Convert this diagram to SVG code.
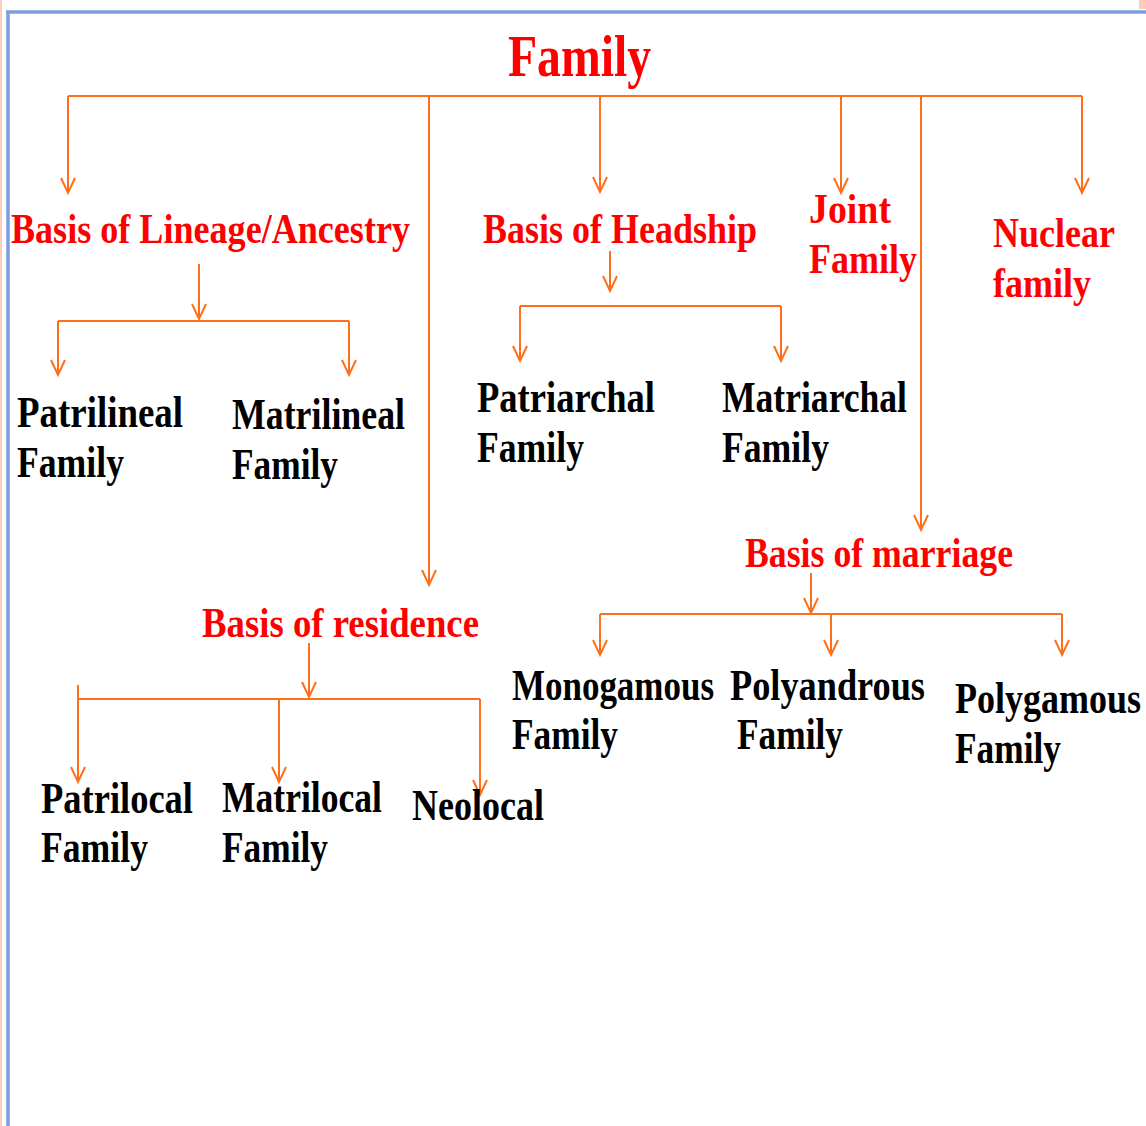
<svg xmlns="http://www.w3.org/2000/svg" width="1146" height="1126" viewBox="0 0 1146 1126">
<style>
.t{font-family:"Liberation Serif","Times New Roman",serif;}
.r{fill:#ff0000;font-weight:bold;font-size:42px;}
.k{fill:#000000;font-weight:bold;font-size:44px;}
.ti{fill:#ff0000;font-weight:bold;font-size:60px;}
.c{fill:none;stroke:#ff6f1a;stroke-width:2;}
.a{marker-end:url(#arr);}
</style>
<defs>
<marker id="arr" markerUnits="userSpaceOnUse" orient="auto" markerWidth="20" markerHeight="20" refX="0" refY="0" overflow="visible">
<path d="M-15,-7 L0,0 L-15,7" fill="none" stroke="#ff6f1a" stroke-width="2"/>
</marker>
</defs>
<rect width="1146" height="1126" fill="#ffffff"/>
<g id="frame">
<line x1="1" y1="0" x2="1" y2="1126" stroke="#ffcdbd" stroke-width="2"/>
<rect x="1139" y="0" width="7" height="9" fill="#ffcab6"/>
<line x1="8" y1="12" x2="8" y2="1126" stroke="#7c9edc" stroke-width="3.5"/>
<line x1="6" y1="12" x2="1146" y2="12" stroke="#7c9edc" stroke-width="3.5"/>
</g>
<g id="connectors">
<path class="c" d="M68,96 H1082"/>
<path class="c a" d="M68,96 V193"/>
<path class="c a" d="M429,96 V585"/>
<path class="c a" d="M600,96 V192"/>
<path class="c a" d="M841,96 V193"/>
<path class="c a" d="M921,96 V530"/>
<path class="c a" d="M1082,96 V193"/>
<path class="c a" d="M199,264 V319"/>
<path class="c" d="M58,321 H349"/>
<path class="c a" d="M58,321 V375"/>
<path class="c a" d="M349,321 V375"/>
<path class="c a" d="M610,251 V291"/>
<path class="c" d="M520,306 H781"/>
<path class="c a" d="M520,306 V361"/>
<path class="c a" d="M781,306 V361"/>
<path class="c a" d="M309,643 V697"/>
<path class="c" d="M78,699 H480"/>
<path class="c a" d="M78,685 V782"/>
<path class="c a" d="M279,699 V782"/>
<path class="c a" d="M480,699 V795"/>
<path class="c a" d="M811,573 V613"/>
<path class="c" d="M600,614 H1062"/>
<path class="c a" d="M600,614 V655"/>
<path class="c a" d="M831,614 V655"/>
<path class="c a" d="M1062,614 V655"/>
</g>
<g id="family"><text class="t ti" x="508" y="76" textLength="143" lengthAdjust="spacingAndGlyphs">Family</text></g>
<g id="lineage"><text class="t r" x="11" y="243" textLength="399" lengthAdjust="spacingAndGlyphs">Basis of Lineage/Ancestry</text></g>
<g id="headship"><text class="t r" x="483" y="243" textLength="274" lengthAdjust="spacingAndGlyphs">Basis of Headship</text></g>
<g id="joint">
<text class="t r" x="809" y="223" textLength="82" lengthAdjust="spacingAndGlyphs">Joint</text>
<text class="t r" x="809" y="273" textLength="108" lengthAdjust="spacingAndGlyphs">Family</text>
</g>
<g id="nuclear">
<text class="t r" x="993" y="247" textLength="122" lengthAdjust="spacingAndGlyphs">Nuclear</text>
<text class="t r" x="993" y="297" textLength="98" lengthAdjust="spacingAndGlyphs">family</text>
</g>
<g id="residence"><text class="t r" x="202" y="637" textLength="277" lengthAdjust="spacingAndGlyphs">Basis of residence</text></g>
<g id="marriage"><text class="t r" x="745" y="567" textLength="268" lengthAdjust="spacingAndGlyphs">Basis of marriage</text></g>
<g id="patrilineal">
<text class="t k" x="17" y="427" textLength="166" lengthAdjust="spacingAndGlyphs">Patrilineal</text>
<text class="t k" x="17" y="477" textLength="107" lengthAdjust="spacingAndGlyphs">Family</text>
</g>
<g id="matrilineal">
<text class="t k" x="232" y="429" textLength="173" lengthAdjust="spacingAndGlyphs">Matrilineal</text>
<text class="t k" x="232" y="479" textLength="106" lengthAdjust="spacingAndGlyphs">Family</text>
</g>
<g id="patriarchal">
<text class="t k" x="477" y="412" textLength="178" lengthAdjust="spacingAndGlyphs">Patriarchal</text>
<text class="t k" x="477" y="462" textLength="107" lengthAdjust="spacingAndGlyphs">Family</text>
</g>
<g id="matriarchal">
<text class="t k" x="722" y="412" textLength="185" lengthAdjust="spacingAndGlyphs">Matriarchal</text>
<text class="t k" x="722" y="462" textLength="107" lengthAdjust="spacingAndGlyphs">Family</text>
</g>
<g id="patrilocal">
<text class="t k" x="41" y="813" textLength="152" lengthAdjust="spacingAndGlyphs">Patrilocal</text>
<text class="t k" x="41" y="862" textLength="107" lengthAdjust="spacingAndGlyphs">Family</text>
</g>
<g id="matrilocal">
<text class="t k" x="222" y="812" textLength="160" lengthAdjust="spacingAndGlyphs">Matrilocal</text>
<text class="t k" x="222" y="862" textLength="106" lengthAdjust="spacingAndGlyphs">Family</text>
</g>
<g id="neolocal"><text class="t k" x="412" y="820" textLength="132" lengthAdjust="spacingAndGlyphs">Neolocal</text></g>
<g id="monogamous">
<text class="t k" x="512" y="700" textLength="202" lengthAdjust="spacingAndGlyphs">Monogamous</text>
<text class="t k" x="512" y="749" textLength="106" lengthAdjust="spacingAndGlyphs">Family</text>
</g>
<g id="polyandrous">
<text class="t k" x="730" y="700" textLength="195" lengthAdjust="spacingAndGlyphs">Polyandrous</text>
<text class="t k" x="737" y="749" textLength="106" lengthAdjust="spacingAndGlyphs">Family</text>
</g>
<g id="polygamous">
<text class="t k" x="955" y="713" textLength="186" lengthAdjust="spacingAndGlyphs">Polygamous</text>
<text class="t k" x="955" y="763" textLength="106" lengthAdjust="spacingAndGlyphs">Family</text>
</g>
</svg>
